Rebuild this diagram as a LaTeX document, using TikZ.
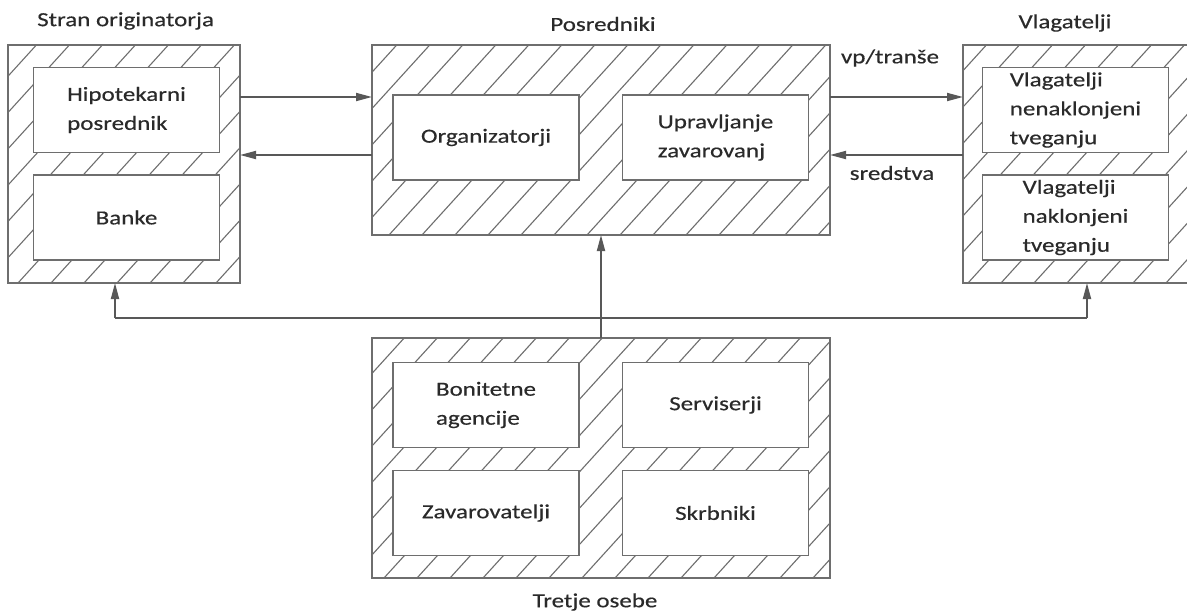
\documentclass[tikz,border=0pt]{standalone}
\usepackage{fontspec}
\setmainfont{Carlito}[FakeStretch=1.25,FakeBold=0.4]
\usetikzlibrary{arrows.meta,calc}
\definecolor{linegray}{HTML}{6E6E6E}
\definecolor{txtgray}{HTML}{2A2A2A}
\begin{document}
\begin{tikzpicture}[x=1pt,y=-1pt,
  outerbox/.style={draw=linegray,line width=1.8pt,inner sep=0pt,outer sep=0pt},
  innerbox/.style={draw=linegray,fill=white,line width=1.8pt,inner sep=0pt,outer sep=0pt,
     minimum width=186pt,minimum height=85pt,align=left,text=txtgray,
     font=\fontsize{20}{29}\selectfont},
  lbl/.style={text=txtgray,inner sep=0pt,font=\fontsize{20}{24}\selectfont},
  hatch/.style={draw=linegray,line width=1.1pt},
  conn/.style={draw=linegray!80!black,line width=1.8pt},
  arr/.style={conn,-{Triangle[length=16pt,width=8pt]}}]
\useasboundingbox (0,0) rectangle (1187,614);
\clip (0,0) rectangle (1187,614);
\fill[white] (0,0) rectangle (1187,614);

% outer boxes
\node[outerbox,minimum width=232pt,minimum height=238pt] (L) at (124,164) {};
\node[outerbox,minimum width=458pt,minimum height=190pt] (M) at (601,140) {};
\node[outerbox,minimum width=232pt,minimum height=238pt] (R) at (1079,164) {};
\node[outerbox,minimum width=458pt,minimum height=240pt] (B) at (601,458) {};

% hatching
\foreach \bx/\ph in {L/10,M/17,R/5,B/12}{
  \begin{scope}
    \clip (\bx.south west) rectangle (\bx.north east);
    \foreach \k in {-9,...,16}
      \draw[hatch] ($(\bx.south west)+(\k*33+\ph,0)$) -- ++(300,-330);
  \end{scope}
}
\foreach \bx in {L,M,R,B}
  \draw[draw=linegray,line width=1.8pt] (\bx.south west) rectangle (\bx.north east);

% inner boxes
\node[innerbox] (L1) at (126.5,110) {Hipotekarni\\posrednik};
\node[innerbox] (L2) at (126.5,217.5) {Banke};
\node[innerbox] (M1) at (486,137.5) {Organizatorji};
\node[innerbox] (M2) at (715.5,137.5) {Upravljanje\\zavarovanj};
\node[innerbox] (R1) at (1075.5,110) {Vlagatelji\\nenaklonjeni\\tveganju};
\node[innerbox] (R2) at (1075.5,217.5) {Vlagatelji\\naklonjeni\\tveganju};
\node[innerbox] (B1) at (486,405) {Bonitetne\\agencije};
\node[innerbox] (B2) at (715.5,405) {Serviserji};
\node[innerbox] (B3) at (486,513) {Zavarovatelji};
\node[innerbox] (B4) at (715.5,513) {Skrbniki};

% titles
\node[lbl,anchor=west] (tL) at (37,21) {Stran originatorja};
\node[lbl] (tM) at (603,24) {Posredniki};
\node[lbl] (tR) at (1065,23) {Vlagatelji};
\node[lbl] (tB) at (595,602) {Tretje osebe};
\node[lbl] (vp) at (890,58) {vp/tranše};
\node[lbl] (sr) at (892,173) {sredstva};

% connectors
\coordinate (ya) at (0,97);
\coordinate (yb) at (0,155);
\coordinate (yc) at (0,318);
\coordinate (xl) at (115,0);
\coordinate (xr) at (1087,0);
\draw[arr] (L.east |- ya) -- (M.west |- ya);
\draw[arr] (M.west |- yb) -- (L.east |- yb);
\draw[arr] (M.east |- ya) -- (R.west |- ya);
\draw[arr] (R.west |- yb) -- (M.east |- yb);
\draw[arr] (B.north) -- (M.south);
\coordinate (hl) at (xl |- yc);
\coordinate (hr) at (xr |- yc);
\draw[conn] (hl) -- (hr);
\draw[arr] (hl) -- (xl |- L.south);
\draw[arr] (hr) -- (xr |- R.south);
\end{tikzpicture}
\end{document}
